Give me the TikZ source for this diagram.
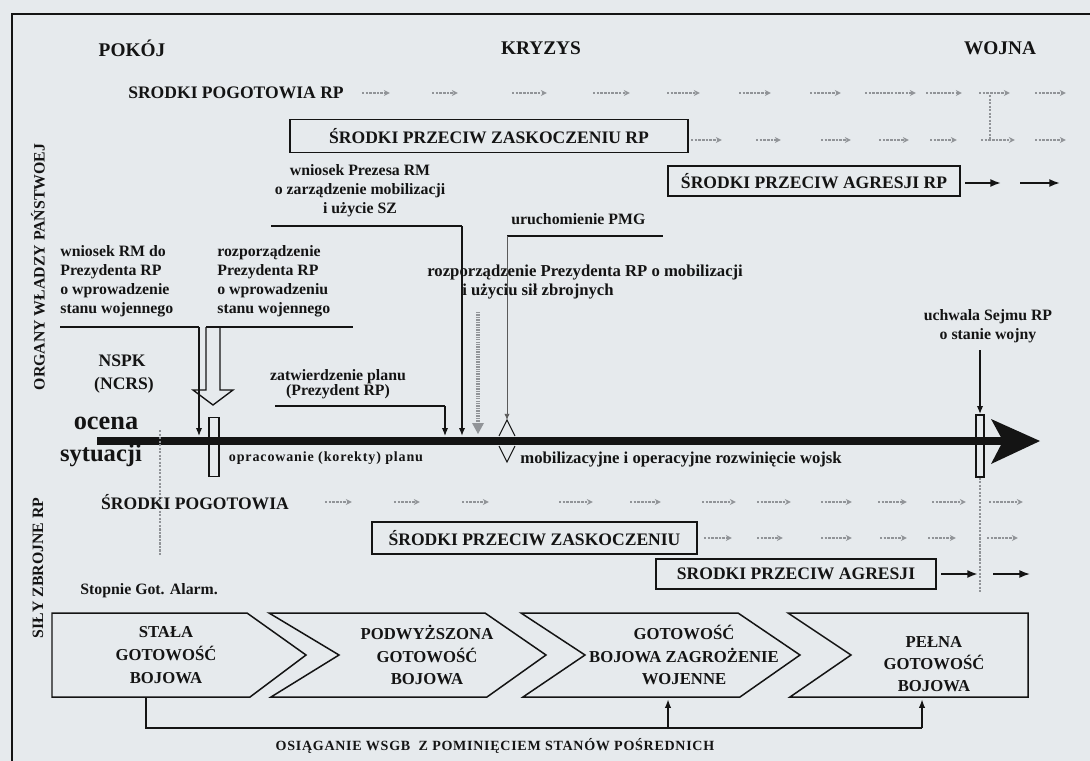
\documentclass[tikz,border=0pt]{standalone}
\usepackage{fontspec}
\setmainfont{Liberation Serif}
\usetikzlibrary{arrows.meta,calc}
\definecolor{paper}{RGB}{230,234,237}
\definecolor{ink}{RGB}{20,20,20}
\definecolor{ghost}{RGB}{145,148,152}
\tikzset{
  lbl/.style={inner sep=0pt, text=ink, font=\fontsize{9}{10.8}\selectfont\bfseries},
  phase/.style={lbl, font=\fontsize{11}{13}\selectfont\bfseries},
  hd/.style={lbl, font=\fontsize{10}{12}\selectfont\bfseries},
  txt/.style={lbl, align=left},
  ctxt/.style={lbl, align=center},
  side/.style={lbl, rotate=90},
  boxed/.style={draw=ink, line width=1.1pt, inner sep=0pt, text=ink, font=\fontsize{10}{12}\selectfont\bfseries},
  frame/.style={draw=ink, line width=0.9pt},
  rule/.style={draw=ink, line width=0.75pt},
  fat/.style={draw=ink, line width=1.6pt},
  tip/.style={-{Latex[length=4.5pt,width=3.6pt]}},
  ghostarrow/.style={draw=ghost, line width=0.65pt, dash pattern=on 1.4pt off 0.7pt,
     -{Stealth[open,length=3.5pt,width=3.4pt]}},
  ghostline/.style={draw=ghost, line width=0.6pt, dash pattern=on 1.2pt off 0.8pt},
  chev/.style={draw=ink, line width=0.85pt},
  stage/.style={ctxt, font=\fontsize{9.5}{13}\selectfont\bfseries},
}
\begin{document}
\begin{tikzpicture}[x=0.02cm, y=-0.02cm]
\fill[paper] (0,0) rectangle (1090,761);
\useasboundingbox (0,0) rectangle (1090,761);

% outer frame
\coordinate (frTR) at (1090,14);
\coordinate (frTL) at (12,14);
\coordinate (frBL) at (12,761);
\draw[frame] (frTR) -- (frTL) -- (frBL);

% side captions
\node[side] (organy) at (38,267) {ORGANY WŁADZY PAŃSTWOEJ};
\node[side] (sily) at (38,568) {SIŁY ZBROJNE RP};

% phases
\node[phase] (pokoj) at (132,48) {POKÓJ};
\node[phase] (kryzys) at (541,48) {KRYZYS};
\node[phase] (wojna) at (1000,48) {WOJNA};

% state level measures
\node[hd] (pogRP) at (236,93) {SRODKI POGOTOWIA RP};
\foreach \a/\b in {362/390,432/458,512/547,593/630,667/700,739/771,810/841,865/916,926/962,979/1010,1035/1066}
  \draw[ghostarrow] (\a,93) -- (\b,93);
\node[boxed, minimum width=7.96cm, minimum height=0.66cm] (zasRP) at (489,136) {ŚRODKI PRZECIW ZASKOCZENIU RP};
\foreach \a/\b in {691/722,756/781,821/851,879/909,930/957,981/1015,1035/1066}
  \draw[ghostarrow] (\a,140) -- (\b,140);
\coordinate (linkA) at (990,95);
\coordinate (linkB) at (990,140);
\draw[ghostline] (linkA) -- (linkB);
\node[boxed, minimum width=5.84cm, minimum height=0.6cm] (agrRP) at (814,181) {ŚRODKI PRZECIW AGRESJI RP};
\coordinate (agrRPa) at (965,183);
\coordinate (agrRPb) at (1001,183);
\coordinate (agrRPc) at (1020,183);
\coordinate (agrRPd) at (1060,183);
\draw[rule, line width=1.1pt, -{Latex[length=6pt,width=4.5pt]}] (agrRPa) -- (agrRPb);
\draw[rule, line width=1.1pt, -{Latex[length=6pt,width=4.5pt]}] (agrRPc) -- (agrRPd);

% main time axis
\coordinate (axL) at (97,441);
\coordinate (axR) at (1004,441);
\coordinate (axTop) at (0,436);
\draw[ink, line width=4.5pt] (axL) -- (axR);
\fill[ink] (991,419) -- (1040,441) -- (991,464) -- (1003,441) -- cycle;

\node[lbl, font=\fontsize{15}{17}\selectfont\bfseries] (ocena) at (106,423) {ocena};
\node[lbl, font=\fontsize{14}{16}\selectfont\bfseries] (sytuacji) at (101,456) {sytuacji};

% request of the prime minister
\node[ctxt] (prezes) at (360,191) {wniosek Prezesa RM\\o zarządzenie mobilizacji\\i użycie SZ};
\coordinate (prezesA) at (271,226);
\coordinate (prezesB) at (462,226);
\draw[rule, line width=1pt] (prezesA) -- (prezesB);
\draw[rule, line width=1pt, tip] (prezesB) -- (prezesB |- axTop);

% martial law request
\node[txt, anchor=west] (rmwn) at (60,281) {wniosek RM do\\Prezydenta RP\\o wprowadzenie\\stanu wojennego};
\coordinate (rmA) at (60,327);
\coordinate (rmB) at (199,327);
\draw[rule] (rmA) -- (rmB);
\draw[rule, tip] (rmB) -- (rmB |- axTop);

% martial law decree with hollow arrow
\node[txt, anchor=west] (rozp) at (217,281) {rozporządzenie\\Prezydenta RP\\o wprowadzeniu\\stanu wojennego};
\coordinate (rozpA) at (206,327);
\coordinate (rozpB) at (353,327);
\draw[rule] (rozpA) -- (rozpB);
\draw[rule] (rozpA) -- (206,390) -- (193,390) -- (213,405) -- (233,390) -- (220,390) -- (220,327);
\node[draw=ink, line width=0.75pt, minimum width=0.2cm, minimum height=1.18cm, inner sep=0pt] (mark1) at (214,447) {};

\node[hd] (nspk) at (122,361) {NSPK};
\node[hd] (ncrs) at (124,385) {(NCRS)};

% plan approval
\node[ctxt, font=\fontsize{9}{8.5}\selectfont\bfseries] (zatw) at (338,384) {zatwierdzenie planu\\(Prezydent RP)};
\coordinate (zatwA) at (275,406);
\coordinate (zatwB) at (445,406);
\draw[rule] (zatwA) -- (zatwB);
\draw[rule, tip] (zatwB) -- (zatwB |- axTop);
\node[lbl, font=\fontsize{8}{9}\selectfont\bfseries\addfontfeature{LetterSpace=6}] (oprac) at (326,458) {opracowanie (korekty) planu};

% faint hatched arrow
\coordinate (hatchA) at (478,312);
\draw[draw=ghost, line width=2.4pt, dash pattern=on 0.8pt off 0.6pt] (hatchA) -- (478,425);
\fill[ghost] (472,423) -- (484,423) -- (478,434) -- cycle;

% mobilisation system
\node[txt, anchor=west] (pmg) at (511,219) {uruchomienie PMG};
\coordinate (pmgA) at (507,236);
\coordinate (pmgB) at (663,236);
\draw[rule] (pmgA) -- (pmgB);
\coordinate (pmgC) at (507,420);
\draw[draw=ink!70, line width=0.5pt, -{Latex[length=3.5pt,width=3pt]}] (pmgA) -- (pmgC);
\draw[rule, line width=0.6pt] (499,436) -- (pmgC) -- (515,436);
\draw[rule, line width=0.6pt] (499,446) -- (507,462) -- (515,446);
\node[txt, anchor=west, font=\fontsize{9.5}{11}\selectfont\bfseries] (rpm1) at (427,273) {rozporządzenie Prezydenta RP o mobilizacji};
\node[txt, anchor=west, font=\fontsize{9.5}{11}\selectfont\bfseries] (rpm2) at (462,292) {i użyciu sił zbrojnych};
\node[txt, anchor=west, font=\fontsize{9.5}{11}\selectfont\bfseries] (mobroz) at (520,460) {mobilizacyjne i operacyjne rozwinięcie wojsk};

% state of war
\node[ctxt] (sejm) at (988,326) {uchwala Sejmu RP\\o stanie wojny};
\coordinate (sejmA) at (980,350);
\draw[rule, tip] (sejmA) -- (980,414);
\node[draw=ink, line width=0.75pt, minimum width=0.16cm, minimum height=1.24cm, inner sep=0pt] (mark2) at (980,446) {};
\draw[ghostline] (mark2.south) -- (980,592);
\coordinate (faintA) at (160,430);
\draw[ghostline] (faintA) -- (160,556);

% armed forces measures
\node[hd] (pog) at (195,502) {ŚRODKI POGOTOWIA};
\foreach \a/\b in {325/352,394/420,462/489,559/593,630/661,702/736,757/791,821/852,878/907,932/966,989/1023}
  \draw[ghostarrow] (\a,502) -- (\b,502);
\node[boxed, minimum width=6.5cm, minimum height=0.64cm] (zas) at (534.5,538) {ŚRODKI PRZECIW ZASKOCZENIU};
\foreach \a/\b in {704/732,757/783,821/852,880/907,928/956,987/1018}
  \draw[ghostarrow] (\a,538) -- (\b,538);
\node[boxed, minimum width=5.6cm, minimum height=0.6cm] (agr) at (796,574) {SRODKI PRZECIW AGRESJI};
\coordinate (agrA) at (941,574);
\coordinate (agrB) at (978,574);
\coordinate (agrC) at (993,574);
\coordinate (agrD) at (1030,574);
\draw[rule, line width=1.6pt, -{Latex[length=6pt,width=4.5pt]}] (agrA) -- (agrB);
\draw[rule, line width=0.9pt, -{Latex[length=6pt,width=4.5pt]}] (agrC) -- (agrD);

% readiness stages
\node[txt, anchor=west] (stopnie) at (80,591) {Stopnie Got. Alarm.};
\draw[chev] (52,613) -- (247,613) -- (306,655) -- (250,697) -- (52,697) -- cycle;
\draw[chev] (269,613) -- (485,613) -- (546,655) -- (487,697) -- (271,697) -- (339,655) -- cycle;
\draw[chev] (521,613) -- (738,613) -- (800,655) -- (740,697) -- (523,697) -- (585,655) -- cycle;
\draw[chev] (788,613) -- (1028,613) -- (1028,697) -- (790,697) -- (851,655) -- cycle;
\node[stage] (st1) at (166,655) {STAŁA\\GOTOWOŚĆ\\BOJOWA};
\node[stage] (st2) at (427,655) {PODWYŻSZONA\\GOTOWOŚĆ\\BOJOWA};
\node[stage] (st3) at (684,655) {GOTOWOŚĆ\\BOJOWA ZAGROŻENIE\\WOJENNE};
\node[stage, font=\fontsize{9.5}{12.5}\selectfont\bfseries] (st4) at (934,664) {PEŁNA\\GOTOWOŚĆ\\BOJOWA};

% skipping intermediate states
\coordinate (skipA) at (146,697);
\coordinate (skipB) at (146,728);
\coordinate (skipC) at (922,728);
\coordinate (skipM) at (668,728);
\draw[fat] (skipA) -- (skipB) -- (skipC);
\draw[rule, line width=1pt, -{Latex[length=5pt,width=3.6pt]}] (skipM) -- (668,699);
\draw[rule, line width=1pt, -{Latex[length=5pt,width=3.6pt]}] (skipC) -- (922,699);
\node[lbl, font=\fontsize{8}{9}\selectfont\bfseries\addfontfeature{LetterSpace=5}] (skiptxt) at (495,746) {OSIĄGANIE WSGB\ \ Z POMINIĘCIEM STANÓW POŚREDNICH};
\end{tikzpicture}
\end{document}
